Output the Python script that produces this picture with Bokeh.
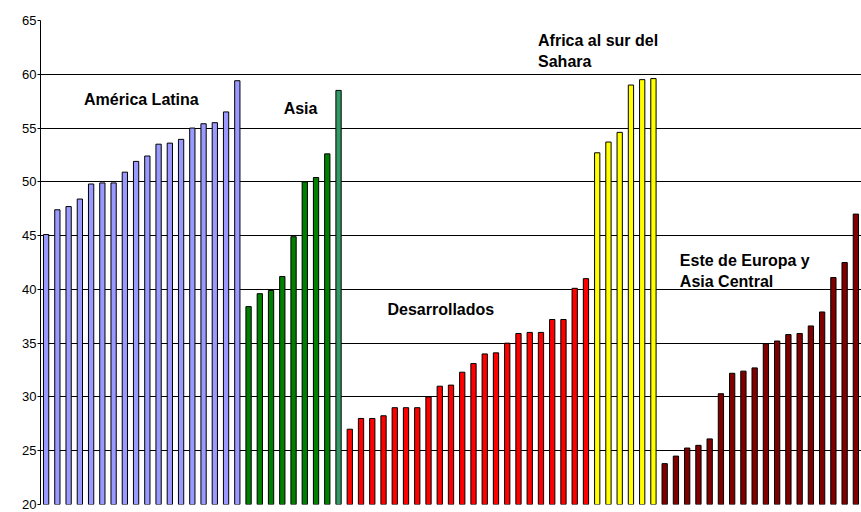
from bokeh.plotting import figure
from bokeh.models import Range1d, Label, FixedTicker, ColumnDataSource
from bokeh.embed import file_html
from bokeh.resources import INLINE

# ---- data ----
america_latina = [45.1, 47.4, 47.7, 48.4, 49.8, 49.9, 49.9, 50.9, 51.9, 52.4,
                  53.5, 53.6, 53.95, 55.0, 55.4, 55.5, 56.5, 59.4]
asia = [38.4, 39.6, 39.9, 41.2, 44.9, 50.0, 50.4, 52.6]
asia_ultimo = [58.5]
desarrollados = [27.0, 28.0, 28.0, 28.25, 29.0, 29.0, 29.0, 30.0, 31.0, 31.1,
                 32.3, 33.1, 34.0, 34.1, 35.0, 35.9, 36.0, 36.0, 37.2, 37.2,
                 40.1, 41.0]
africa = [52.7, 53.7, 54.6, 59.0, 59.5, 59.6]
este_europa = [23.8, 24.5, 25.25, 25.5, 26.1, 30.3, 32.2, 32.4, 32.7, 34.95,
               35.2, 35.8, 35.9, 36.6, 37.9, 41.1, 42.5, 47.0]
y_ticks = [20, 25, 30, 35, 40, 45, 50, 55, 60, 65]

groups = [
    (america_latina, "#9999FF"),
    (asia, "#008000"),
    (asia_ultimo, "#339966"),
    (desarrollados, "#FF0000"),
    (africa, "#FFFF00"),
    (este_europa, "#800000"),
]

xs, tops, colors = [], [], []
i = 0
for vals, col in groups:
    for v in vals:
        xs.append(i)
        tops.append(v)
        colors.append(col)
        i += 1
n = i

src = ColumnDataSource(dict(x=xs, top=tops, color=colors))

p = figure(width=861, height=512, output_backend="svg", toolbar_location=None,
           x_range=Range1d(-0.5, n - 0.5), y_range=Range1d(20, 65),
           min_border_left=40, min_border_right=0, min_border_top=20,
           min_border_bottom=8)
p.outline_line_color = None
p.background_fill_color = "white"

p.vbar(x="x", top="top", bottom=20, width=0.47, fill_color="color",
       line_color="black", line_width=1, source=src)

p.xaxis.visible = False
p.xgrid.visible = False
p.yaxis.ticker = FixedTicker(ticks=y_ticks)
p.yaxis.minor_tick_line_color = None
p.yaxis.major_tick_out = 3
p.yaxis.major_tick_in = 0
p.yaxis.major_label_standoff = 1
p.yaxis.axis_line_color = "black"
p.yaxis.major_tick_line_color = "black"
p.yaxis.major_label_text_font = "Liberation Sans"
p.yaxis.major_label_text_font_size = "13px"
p.yaxis.major_label_text_color = "black"
p.ygrid.grid_line_color = "black"
p.ygrid.grid_line_width = 1

labels = [
    ("América Latina", 3.37, 57.63),
    ("Asia", 21.12, 56.8),
    ("Desarrollados", 30.35, 38.12),
    ("Africa al sur del", 43.74, 63.15),
    ("Sahara", 43.74, 61.2),
    ("Este de Europa y", 56.35, 42.72),
    ("Asia Central", 56.35, 40.7),
]
for txt, lx, ly in labels:
    p.add_layout(Label(x=lx, y=ly, text=txt, text_font="Liberation Sans",
                       text_font_style="bold", text_font_size="16px",
                       text_color="black", text_align="left",
                       text_baseline="middle"))

open("out.html", "w").write(file_html(p, INLINE))
